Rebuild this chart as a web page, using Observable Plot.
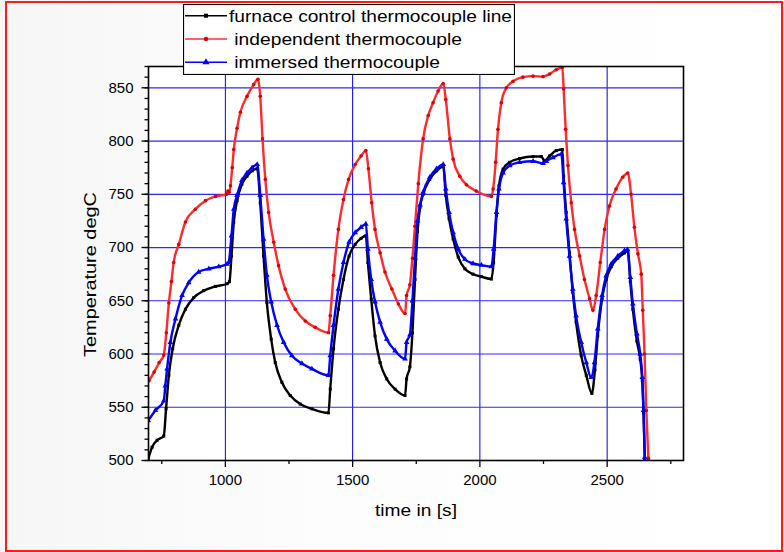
<!DOCTYPE html>
<html>
<head>
<meta charset="utf-8">
<script src="https://cdn.jsdelivr.net/npm/d3@7"></script>
<script src="https://cdn.jsdelivr.net/npm/@observablehq/plot@0.6"></script>
<style>
  html, body { margin: 0; padding: 0; background: #ffffff; }
  #wrap { position: relative; width: 784px; height: 552px; overflow: hidden;
          background: linear-gradient(to right, #f6f6f6, #fdfdfd 40%, #ffffff); }
  #border { position: absolute; left: 5px; top: 1px; width: 774px; height: 547px;
            border: 2px solid #ff1a1a; pointer-events: none; }
  #legend { position: absolute; left: 183px; top: 4px; }
</style>
</head>
<body>
<div id="wrap"><div id="border"></div></div>
<script>
// ---- data ----
const seriesNames = ["furnace control thermocouple line", " independent thermocouple", " immersed thermocouple"];

const furnaceT = [697,712,732,758,767,778,793,817,843,876,915,961,1007,1016,1024,1033,1046,1065,1085,1105,1125,1137,1150,1163,1180,1196,1222,1255,1294,1340,1405,1412,1425,1444,1464,1486,1510,1533,1552,1560,1573,1588,1608,1634,1667,1706,1712,1725,1735,1745,1755,1765,1777,1803,1830,1856,1866,1879,1895,1915,1941,1973,2006,2045,2054,2065,2075,2091,2117,2156,2209,2241,2254,2274,2300,2324,2329,2339,2352,2365,2378,2398,2418,2440,2452,2463,2480,2496,2516,2542,2568,2581,2591,2601,2617,2630,2638,2643,2648,2651];
const furnaceV = [501.5,512.5,519,523,548.5,580,605,627,642,653,659.5,663.5,666,668,692,723.6,744,759.5,767,772,774,742,692,648.5,614,592,573.5,561,553,548.5,544.7,567,605,642,670,692,703,708.6,711,686,651.7,617,592,576.6,567,561,576.6,588,620,670,715,738,750,764,772,776,749,727,708,691,680,675,672.6,670.4,686,730,758,773.6,780,783.6,785.5,785.5,781.4,786,791,792,767,733,695,658,630,598.5,580,563,585,617,651.7,670,682,690,695,697,668,642,612,595,575,545,500,488];

const independentT = [700,720,740,758,768,778,788,797,817,843,882,922,961,1005,1010,1015,1020,1027,1033,1046,1059,1085,1111,1128,1137,1146,1157,1170,1190,1209,1235,1275,1314,1353,1405,1412,1425,1444,1464,1484,1510,1533,1552,1562,1575,1588,1608,1627,1654,1680,1706,1712,1725,1735,1745,1758,1777,1797,1816,1836,1856,1866,1882,1895,1921,1947,1986,2045,2052,2062,2071,2084,2104,2130,2169,2209,2248,2274,2300,2324,2329,2337,2346,2359,2372,2392,2411,2431,2444,2457,2473,2490,2509,2535,2561,2581,2594,2607,2621,2634,2640,2647,2654,2662,2665];
const independentV = [575,583,592,599,620,648,668,686,703,724,736,744,748,750,753,752,758,775,792,812,827,842,853,858,842,802,764,733,705,683,661,642,631,625,620,636,674,717,745,764,778,786,791,774,742,717,695,677,661,647,638,655,665,690,720,760,802,824,836,847,854,839,802,783,767,759,753,748,755,780,811,836,850,856,860,861,860.5,863,867,869,849,811,777,742,717,692,670,652,641,655,686,717,739,755,766,770,750,719,694,675,641,600,547,502,488];

const immersedT = [697,725,758,764,771,784,804,830,856,895,935,974,1007,1013,1024,1033,1046,1065,1085,1105,1125,1137,1150,1163,1180,1203,1229,1261,1301,1340,1405,1412,1425,1444,1464,1486,1510,1533,1552,1560,1573,1588,1608,1634,1667,1706,1712,1725,1735,1745,1755,1765,1777,1803,1830,1856,1866,1879,1895,1915,1941,1973,2006,2045,2054,2065,2075,2091,2117,2156,2209,2248,2261,2287,2320,2329,2339,2352,2365,2378,2398,2418,2437,2450,2463,2480,2496,2516,2542,2568,2580,2591,2601,2617,2630,2638,2643,2648,2650];
const immersedV = [537.5,547,556,570,586,611,633,655,667,677,680,682,684.5,686,711,736,749,763,770,775,778,749,708,674,649,627,611,598.5,591,586,580,598.5,627,661,686,705,714,719,722,698.5,670,649,630,614,603,595.4,611,618,650,690,725,740,752,766,774,778,755,733,714,698.5,689,685,683.5,682,698.5,733,755,770,777,780,781,779,781,784.5,787.7,761,727,692,661,636,611,592,578,592,623.5,655,673.5,684.5,692,697,698,672,647,619,600,578,547,503,490];

const xDomain = [698, 2800];
const yDomain = [500, 870];
const xMajorTicks = [1000, 1500, 2000, 2500];
const xMinorTicks = [750, 1250, 1750, 2250, 2750];
const yMajorTicks = [500, 550, 600, 650, 700, 750, 800, 850];
const yMinorTicks = d3.range(500, 871, 10);
const xTitle = "time in [s]";
const yTitle = "Temperature degC";

// ---- tables ----
const furnace = furnaceT.map((t, i) => ({t, v: furnaceV[i]}));
const independent = independentT.map((t, i) => ({t, v: independentV[i]}));
const immersed = immersedT.map((t, i) => ({t, v: immersedV[i]}));

const FONT = "Arial, 'Liberation Sans', sans-serif";
const fmt = d3.format("d");

const chart = Plot.plot({
  width: 784,
  height: 552,
  marginLeft: 148,
  marginRight: 101,
  marginTop: 66,
  marginBottom: 92,
  style: {fontFamily: FONT, fontSize: "15px", background: "transparent", color: "black", overflow: "visible"},
  x: {domain: xDomain, label: null},
  y: {domain: yDomain, label: null},
  marks: [
    Plot.frame({fill: "white", stroke: "none"}),
    Plot.gridX(xMajorTicks, {stroke: "#0000ff", strokeOpacity: 1, strokeWidth: 1}),
    Plot.gridY(yMajorTicks.filter(d => d > 500), {stroke: "#2a2aff", strokeOpacity: 1, strokeWidth: 1.2}),
    Plot.line(furnace, {x: "t", y: "v", stroke: "black", strokeWidth: 2.4, curve: "monotone-x", clip: true}),
    Plot.dot(furnace, {x: "t", y: "v", symbol: "square", r: 1.7, fill: "black", clip: true}),
    Plot.line(independent, {x: "t", y: "v", stroke: "#ff2a2a", strokeWidth: 2.4, curve: "monotone-x", clip: true}),
    Plot.dot(independent, {x: "t", y: "v", symbol: "circle", r: 1.8, fill: "#e00000", clip: true}),
    Plot.line(immersed, {x: "t", y: "v", stroke: "#0000ff", strokeWidth: 2.4, curve: "monotone-x", clip: true}),
    Plot.dot(immersed, {x: "t", y: "v", symbol: "triangle", r: 2.1, fill: "#0000ff", clip: true}),
    Plot.axisX(xMinorTicks, {tickSize: 4, tickFormat: () => "", label: null, strokeWidth: 1.3}),
    Plot.axisX(xMajorTicks, {tickSize: 7, tickPadding: 7, tickFormat: fmt, fontSize: 15, label: null, strokeWidth: 1.3}),
    Plot.axisY(yMinorTicks, {tickSize: 3.5, tickFormat: () => "", label: null, strokeWidth: 1.3}),
    Plot.axisY(yMajorTicks, {tickSize: 6.5, tickPadding: 8.5, tickFormat: fmt, fontSize: 15, label: null, strokeWidth: 1.3}),
    Plot.frame({stroke: "black", strokeWidth: 1.6}),
    Plot.text([xTitle], {text: d => d, frameAnchor: "bottom", dy: 50, lineAnchor: "middle", fontSize: 17}),
    Plot.text([yTitle], {text: d => d, frameAnchor: "left", dx: -58, dy: 11, rotate: -90, lineAnchor: "middle", textAnchor: "middle", fontSize: 17})
  ]
});

// stretch titles to the reference widths
chart.querySelectorAll("text").forEach(el => {
  if (el.textContent === xTitle) { el.setAttribute("textLength", 82); el.setAttribute("lengthAdjust", "spacingAndGlyphs"); }
  if (el.textContent === yTitle) { el.setAttribute("textLength", 165); el.setAttribute("lengthAdjust", "spacingAndGlyphs"); }
});

const wrap = document.getElementById("wrap");
wrap.insertBefore(chart, wrap.firstChild);
chart.style.position = "absolute";
chart.style.left = "0px";
chart.style.top = "0px";

// ---- legend ----
const legendColors = ["black", "#ff3030", "#0000ff"];
const markerColors = ["black", "#e00000", "#0000ff"];
const legendSymbols = [d3.symbolSquare, d3.symbolCircle, d3.symbolTriangle];
const textStarts = [46, 46, 46];
const textLengths = [283, 233, 211];
const ns = "http://www.w3.org/2000/svg";
const lg = document.createElementNS(ns, "svg");
lg.setAttribute("id", "legend");
lg.setAttribute("width", 332);
lg.setAttribute("height", 71);
lg.innerHTML = `<rect x="0.5" y="0.5" width="331" height="70" fill="white" stroke="black" stroke-width="1.2"/>`;
seriesNames.forEach((name, i) => {
  const cy = 11.7 + i * 23.3;
  const line = document.createElementNS(ns, "line");
  line.setAttribute("x1", 2); line.setAttribute("x2", 44);
  line.setAttribute("y1", cy); line.setAttribute("y2", cy);
  line.setAttribute("stroke", legendColors[i]); line.setAttribute("stroke-width", 1.4);
  lg.appendChild(line);
  const sym = document.createElementNS(ns, "path");
  sym.setAttribute("d", d3.symbol(legendSymbols[i], i === 2 ? 22 : 16)());
  sym.setAttribute("transform", `translate(23,${cy})`);
  sym.setAttribute("fill", markerColors[i]);
  lg.appendChild(sym);
  const tx = document.createElementNS(ns, "text");
  tx.setAttribute("x", textStarts[i]);
  tx.setAttribute("y", cy);
  tx.setAttribute("dy", "0.35em");
  tx.setAttribute("font-family", FONT);
  tx.setAttribute("font-size", 17);
  tx.setAttribute("xml:space", "preserve");
  tx.style.whiteSpace = "pre";
  tx.setAttribute("textLength", textLengths[i]);
  tx.setAttribute("lengthAdjust", "spacingAndGlyphs");
  tx.textContent = name;
  lg.appendChild(tx);
});
wrap.appendChild(lg);
</script>
</body>
</html>
